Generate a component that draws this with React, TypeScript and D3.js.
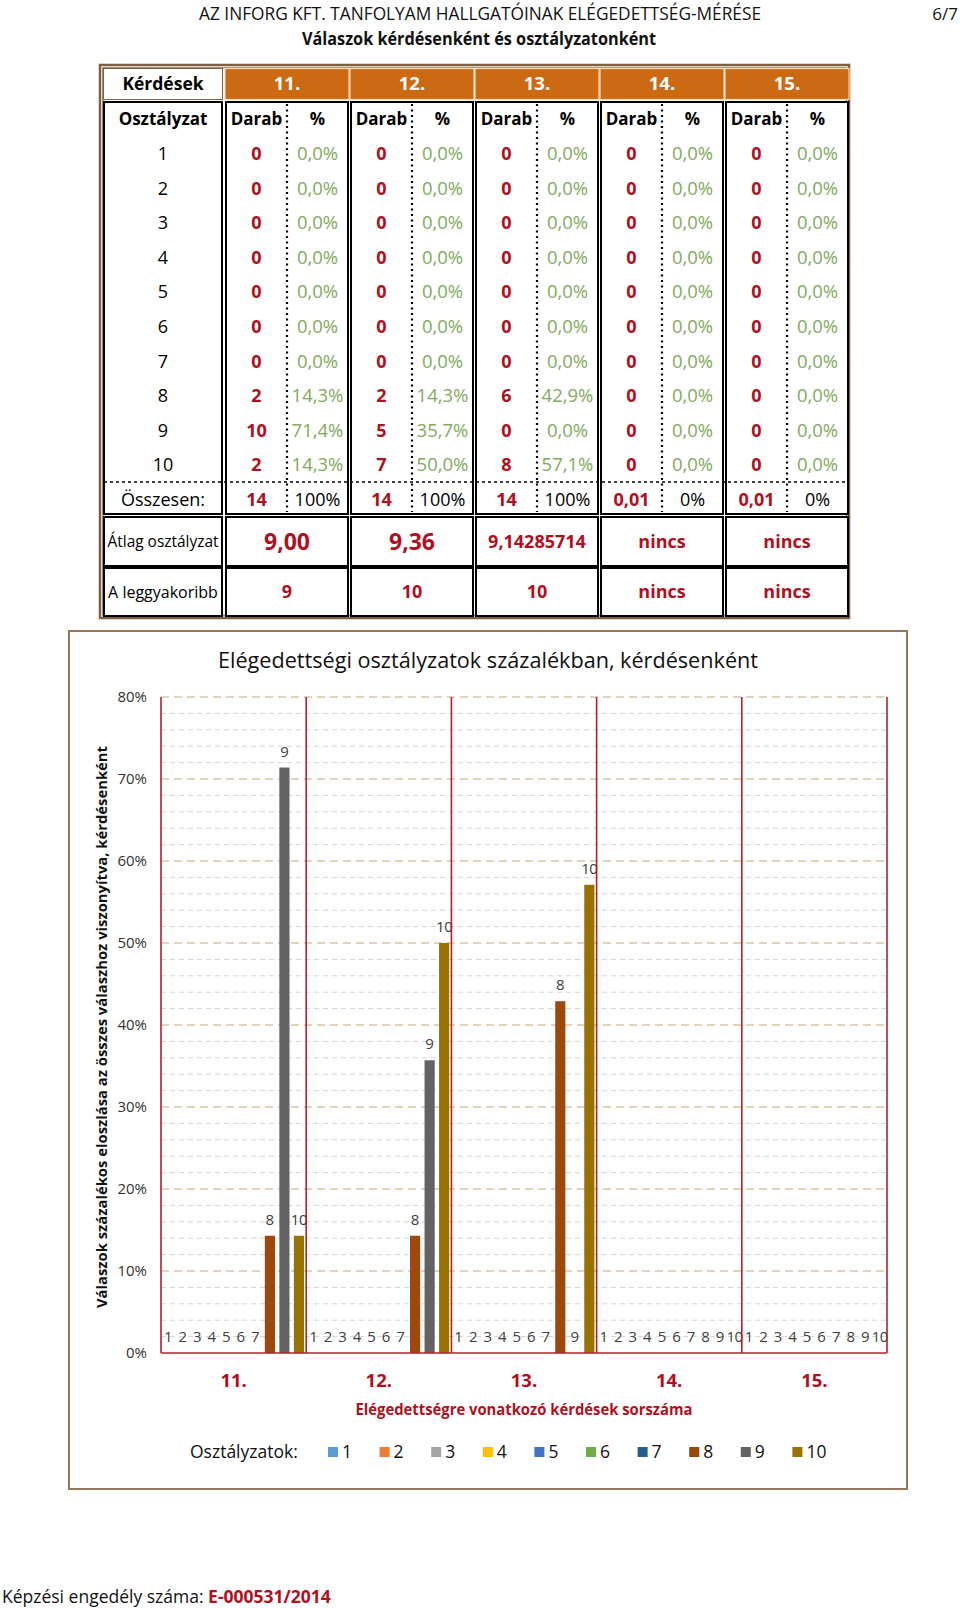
import React from 'react';
import * as d3 from 'd3';

// ---------- DATA ----------
const questions = ['11.', '12.', '13.', '14.', '15.'];
const grades = ['1', '2', '3', '4', '5', '6', '7', '8', '9', '10'];

const q11Counts = [0, 0, 0, 0, 0, 0, 0, 2, 10, 2];
const q12Counts = [0, 0, 0, 0, 0, 0, 0, 2, 5, 7];
const q13Counts = [0, 0, 0, 0, 0, 0, 0, 6, 0, 8];
const q14Counts = [0, 0, 0, 0, 0, 0, 0, 0, 0, 0];
const q15Counts = [0, 0, 0, 0, 0, 0, 0, 0, 0, 0];

const q11Pct = [0, 0, 0, 0, 0, 0, 0, 14.3, 71.4, 14.3];
const q12Pct = [0, 0, 0, 0, 0, 0, 0, 14.3, 35.7, 50.0];
const q13Pct = [0, 0, 0, 0, 0, 0, 0, 42.9, 0, 57.1];
const q14Pct = [0, 0, 0, 0, 0, 0, 0, 0, 0, 0];
const q15Pct = [0, 0, 0, 0, 0, 0, 0, 0, 0, 0];

const totalCounts = ['14', '14', '14', '0,01', '0,01'];
const totalPcts = ['100%', '100%', '100%', '0%', '0%'];
const averages = ['9,00', '9,36', '9,14285714', 'nincs', 'nincs'];
const modes = ['9', '10', '10', 'nincs', 'nincs'];

const yTicks = [0, 10, 20, 30, 40, 50, 60, 70, 80];
const seriesColors = ['#5B9BD5', '#ED7D31', '#A5A5A5', '#FFC000', '#4472C4', '#70AD47', '#255E91', '#9E480E', '#636363', '#997300'];

const allCounts = [q11Counts, q12Counts, q13Counts, q14Counts, q15Counts];
const allPcts = [q11Pct, q12Pct, q13Pct, q14Pct, q15Pct];

const FONT = '"Open Sans", sans-serif';
const RED = '#B0101E';
const GREEN = '#82A95E';
const BROWN = '#7E6041';
const ORANGE = '#CC6A14';
const CHART_RED = '#B3202A';

const fmtPct = (v: number) => v.toFixed(1).replace('.', ',') + '%';

function Table() {
  const gx = d3.scaleBand<string>().domain(questions).range([226, 848]).paddingInner(0.024).paddingOuter(0);
  const bw = gx.bandwidth();
  const rowY = d3.scaleLinear().domain([0, 11]).range([119, 499.6]);
  const bodyTop = 102, bodyBot = 514;
  const rowLabels = ['Osztályzat', ...grades, 'Összesen:'];
  const FS = 18;
  return (
    <g fontFamily={FONT}>
      {/* outer double frame */}
      <rect x={100} y={65} width={749} height={553} fill="none" stroke={BROWN} strokeWidth={2.5} />
      <rect x={102.8} y={67.8} width={743.4} height={547.4} fill="none" stroke={BROWN} strokeWidth={1} />
      {/* header row */}
      <rect x={103.5} y={68.5} width={119} height={31} fill="#fff" stroke={BROWN} strokeWidth={1} />
      <text x={163} y={84} dy="0.35em" textAnchor="middle" fontWeight="bold" fontSize={17.5}>Kérdések</text>
      {questions.map(q => (
        <g key={q}>
          <rect x={gx(q)! - 1} y={68.5} width={bw + 2} height={31} fill={ORANGE} stroke="#F3DDB8" strokeWidth={1.2} />
          <text x={gx(q)! + bw / 2} y={84} dy="0.35em" textAnchor="middle" fontWeight="bold" fontSize={18.5} fill="#fff">{q}</text>
        </g>
      ))}
      {/* body blocks */}
      <rect x={104} y={bodyTop} width={118} height={bodyBot - bodyTop} fill="#fff" stroke="#000" strokeWidth={2} />
      {questions.map(q => (
        <rect key={q} x={gx(q)!} y={bodyTop} width={bw} height={bodyBot - bodyTop} fill="#fff" stroke="#000" strokeWidth={2} />
      ))}
      {/* dashed line above totals */}
      <line x1={104} x2={847} y1={482} y2={482} stroke="#000" strokeWidth={1.5} strokeDasharray="3,3" />
      {/* dotted middle lines */}
      {questions.map(q => (
        <line key={q} x1={gx(q)! + bw / 2} x2={gx(q)! + bw / 2} y1={bodyTop + 2} y2={bodyBot - 2} stroke="#000" strokeWidth={2.2} strokeDasharray="2,3.5" />
      ))}
      {/* row labels */}
      {rowLabels.map((l, i) => (
        <text key={l} x={163} y={rowY(i)} dy="0.35em" textAnchor="middle" fontSize={i === 0 ? 17 : FS} fontWeight={i === 0 ? 'bold' : 'normal'}>{l}</text>
      ))}
      {/* values */}
      {questions.map((q, qi) => {
        const cx1 = gx(q)! + bw / 4;
        const cx2 = gx(q)! + (3 * bw) / 4;
        return (
          <g key={q}>
            <text x={cx1} y={rowY(0)} dy="0.35em" textAnchor="middle" fontSize={17} fontWeight="bold">Darab</text>
            <text x={cx2} y={rowY(0)} dy="0.35em" textAnchor="middle" fontSize={17} fontWeight="bold">%</text>
            {grades.map((g, gi) => (
              <g key={g}>
                <text x={cx1} y={rowY(gi + 1)} dy="0.35em" textAnchor="middle" fontSize={FS} fontWeight="bold" fill={RED}>{allCounts[qi][gi]}</text>
                <text x={cx2} y={rowY(gi + 1)} dy="0.35em" textAnchor="middle" fontSize={FS + 0.5} fill={GREEN}>{fmtPct(allPcts[qi][gi])}</text>
              </g>
            ))}
            <text x={cx1} y={rowY(11)} dy="0.35em" textAnchor="middle" fontSize={FS} fontWeight="bold" fill={RED}>{totalCounts[qi]}</text>
            <text x={cx2} y={rowY(11)} dy="0.35em" textAnchor="middle" fontSize={FS}>{totalPcts[qi]}</text>
          </g>
        );
      })}
      {/* average + mode rows */}
      {[{ y0: 517, y1: 566, label: 'Átlag osztályzat', vals: averages }, { y0: 568, y1: 616, label: 'A leggyakoribb', vals: modes }].map((r, ri) => (
        <g key={r.label}>
          <rect x={104} y={r.y0} width={118} height={r.y1 - r.y0} fill="#fff" stroke="#000" strokeWidth={2} />
          <text x={163} y={(r.y0 + r.y1) / 2} dy="0.35em" textAnchor="middle" fontSize={16} textLength={ri === 0 ? 111 : undefined} lengthAdjust="spacingAndGlyphs">{r.label}</text>
          {questions.map((q, qi) => {
            const v = r.vals[qi];
            const big = ri === 0 && (qi === 0 || qi === 1);
            return (
              <g key={q}>
                <rect x={gx(q)!} y={r.y0} width={bw} height={r.y1 - r.y0} fill="#fff" stroke="#000" strokeWidth={2} />
                <text x={gx(q)! + bw / 2} y={(r.y0 + r.y1) / 2} dy="0.35em" textAnchor="middle" fontSize={big ? 23 : 18} fontWeight="bold" fill={RED}>{v}</text>
              </g>
            );
          })}
        </g>
      ))}
    </g>
  );
}

function Chart() {
  const x0 = d3.scaleBand<string>().domain(questions).range([161, 887]).padding(0);
  const x1 = d3.scaleBand<string>().domain(grades).range([0, x0.bandwidth()]).paddingInner(0.3).paddingOuter(0.15);
  const y = d3.scaleLinear().domain([0, 80]).range([1353, 697]);
  const minor = d3.range(2, 80, 2).filter(v => v % 10 !== 0);
  const major = yTicks.filter(v => v > 0);
  const plotL = 161, plotR = 887;
  return (
    <g fontFamily={FONT}>
      <rect x={69} y={631} width={838} height={858} fill="#fff" stroke="#8B6B4A" strokeWidth={1.8} />
      <text x={488} y={660} dy="0.35em" textAnchor="middle" fontSize={22.5} fill="#111" textLength={540} lengthAdjust="spacingAndGlyphs">Elégedettségi osztályzatok százalékban, kérdésenként</text>
      {minor.map(v => (
        <line key={'m' + v} x1={plotL} x2={plotR} y1={y(v)} y2={y(v)} stroke="#D4D4D4" strokeWidth={1} strokeDasharray="5,4" />
      ))}
      {major.map(v => (
        <line key={'M' + v} x1={plotL} x2={plotR} y1={y(v)} y2={y(v)} stroke="#DCC5A6" strokeWidth={1.6} strokeDasharray="8,5" />
      ))}
      {yTicks.map(v => (
        <text key={'t' + v} x={147} y={y(v)} dy="0.35em" textAnchor="end" fontSize={15} fill="#333">{v}%</text>
      ))}
      {/* bars */}
      {questions.map((q, qi) => (
        <g key={q} transform={`translate(${x0(q)},0)`}>
          {grades.map((g, gi) => {
            const v = allPcts[qi][gi];
            const bx = x1(g)!;
            return (
              <g key={g}>
                {v > 0 && <rect x={bx} y={y(v)} width={x1.bandwidth()} height={y(0) - y(v)} fill={seriesColors[gi]} />}
                <text x={bx + x1.bandwidth() / 2} y={y(v) - 11} textAnchor="middle" fontSize={15} fill="#404040" letterSpacing={g === '10' ? -0.5 : 0}>{g}</text>
              </g>
            );
          })}
        </g>
      ))}
      {/* red separators and axis */}
      {[...questions.map(q => x0(q)!), plotR].map((xv, i) => (
        <line key={'s' + i} x1={xv} x2={xv} y1={697} y2={y(0)} stroke={CHART_RED} strokeWidth={1.6} />
      ))}
      <line x1={plotL} x2={plotR} y1={y(0)} y2={y(0)} stroke={CHART_RED} strokeWidth={1.6} />
      {questions.map(q => (
        <text key={'c' + q} x={x0(q)! + x0.bandwidth() / 2} y={1381} dy="0.35em" textAnchor="middle" fontSize={18.5} fontWeight="bold" fill={RED}>{q}</text>
      ))}
      <text x={524} y={1410} dy="0.35em" textAnchor="middle" fontSize={15.5} fontWeight="bold" fill={RED} textLength={337} lengthAdjust="spacingAndGlyphs">Elégedettségre vonatkozó kérdések sorszáma</text>
      <text transform="translate(102,1027) rotate(-90)" dy="0.35em" textAnchor="middle" fontSize={15} fontWeight="bold" fill="#111" textLength={562} lengthAdjust="spacingAndGlyphs">Válaszok százalékos eloszlása az összes válaszhoz viszonyítva, kérdésenként</text>
      {/* legend */}
      <text x={190} y={1452} dy="0.35em" fontSize={17.5} fill="#111">Osztályzatok:</text>
      {grades.map((g, gi) => {
        const lx = 328 + gi * 51.6;
        return (
          <g key={'l' + g}>
            <rect x={lx} y={1447} width={10} height={10} fill={seriesColors[gi]} />
            <text x={lx + 14} y={1452} dy="0.35em" fontSize={17.5} fill="#111">{g}</text>
          </g>
        );
      })}
    </g>
  );
}

export default function App() {
  return (
    <div style={{ position: 'absolute', left: 0, top: 0 }}>
      <svg width={960} height={1608} style={{ display: 'block', background: '#fff' }}>
        <text x={480} y={14} dy="0.35em" textAnchor="middle" fontFamily={FONT} fontSize={18} fill="#111" textLength={562} lengthAdjust="spacingAndGlyphs">AZ INFORG KFT. TANFOLYAM HALLGATÓINAK ELÉGEDETTSÉG-MÉRÉSE</text>
        <text x={958} y={14} dy="0.35em" textAnchor="end" fontFamily={FONT} fontSize={17} fill="#111">6/7</text>
        <text x={479} y={39} dy="0.35em" textAnchor="middle" fontFamily={FONT} fontSize={17.5} fontWeight="bold" fill="#111" textLength={354} lengthAdjust="spacingAndGlyphs">Válaszok kérdésenként és osztályzatonként</text>
        <Table />
        <Chart />
        <text x={2} y={1597} dy="0.35em" fontFamily={FONT} fontSize={17.5} fill="#111">
          Képzési engedély száma: <tspan fontWeight="bold" fill={RED}>E-000531/2014</tspan>
        </text>
      </svg>
    </div>
  );
}
